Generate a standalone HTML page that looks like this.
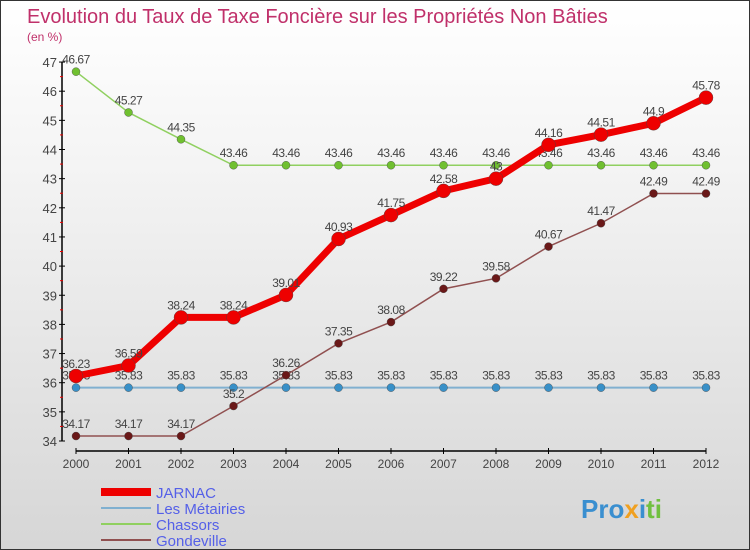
<!DOCTYPE html>
<html><head><meta charset="utf-8"><style>
body{margin:0}
#c{width:750px;height:550px;position:relative;overflow:hidden;background:linear-gradient(#ffffff,#f4f4f4 30%,#d6d6d6);border:1px solid #333;box-sizing:border-box;font-family:"Liberation Sans",sans-serif}
</style></head><body>
<div id="c">
<svg id="s" width="750" height="550" style="position:absolute;left:0;top:0">
<text x="26" y="22" font-size="20" fill="#c0306a">Evolution du Taux de Taxe Foncière sur les Propriétés Non Bâties</text>
<text x="26" y="40" font-size="12" fill="#c0306a">(en %)</text>
<g id="axes"></g><g id="series"></g><g id="legend"></g>
<text x="580" y="517" font-size="26" font-weight="bold" fill="#3a8fd0">Pro<tspan fill="#f0a020">x</tspan><tspan fill="#3a8fd0">i</tspan><tspan fill="#70c040">ti</tspan></text>
</svg>
</div>
<script>
const years=[2000,2001,2002,2003,2004,2005,2006,2007,2008,2009,2010,2011,2012];
const jarnac=[36.23,36.59,38.24,38.24,39.01,40.93,41.75,42.58,43,44.16,44.51,44.9,45.78];
const metairies=[35.83,35.83,35.83,35.83,35.83,35.83,35.83,35.83,35.83,35.83,35.83,35.83,35.83];
const chassors=[46.67,45.27,44.35,43.46,43.46,43.46,43.46,43.46,43.46,43.46,43.46,43.46,43.46];
const gondeville=[34.17,34.17,34.17,35.2,36.26,37.35,38.08,39.22,39.58,40.67,41.47,42.49,42.49];
const yTicks=[34,35,36,37,38,39,40,41,42,43,44,45,46,47];
const names=["JARNAC","Les Métairies","Chassors","Gondeville"];
const NS="http://www.w3.org/2000/svg";
const X=i=>75+i*52.5, Y=v=>440-(v-34)*29.15;
function mk(p,t,a){const e=document.createElementNS(NS,t);for(const k in a)e.setAttribute(k,a[k]);p.appendChild(e);return e;}
const ax=document.getElementById('axes');
let l=mk(ax,'line',{x1:61,y1:Y(47),x2:61,y2:Y(34),stroke:'#000','stroke-width':1.5});


l=mk(ax,'line',{x1:75,y1:450,x2:705,y2:450,stroke:'#000','stroke-width':1.5});


yTicks.forEach(v=>{mk(ax,'line',{x1:58,x2:64,y1:Y(v),y2:Y(v),stroke:'#000'});
 if(v<47)mk(ax,'line',{x1:59,x2:62,y1:Y(v+0.5),y2:Y(v+0.5),stroke:'#e00'});
 const t=mk(ax,'text',{x:56,y:Y(v)+5,'text-anchor':'end','font-size':13,fill:'#444'});t.textContent=v;
 
 });
years.forEach((y,i)=>{mk(ax,'line',{x1:X(i),x2:X(i),y1:447,y2:453,stroke:'#000'});
 const t=mk(ax,'text',{x:X(i),y:467,'text-anchor':'middle','font-size':12,fill:'#444'});t.textContent=y;
 
 });
const sg=document.getElementById('series');
const cfg=[[chassors,'#90d060','#70c030',1.5,4,'chassors'],[metairies,'#80b0d0','#3890c8',2,4,'les-metairies'],[gondeville,'#905050','#6a1818',1.5,4,'gondeville'],[jarnac,'#ee0000','#ee0000',7,7,'jarnac']];
cfg.forEach(([d,lc,pc,w,r,n])=>{
 const p=mk(sg,'polyline',{points:d.map((v,i)=>X(i)+','+Y(v)).join(' '),fill:'none',stroke:lc,'stroke-width':w});
 
 
 d.forEach((v,i)=>{const c=mk(sg,'circle',{cx:X(i),cy:Y(v),r:r,fill:pc,stroke:'#444','stroke-width':0.4});
  
  
  const t=mk(sg,'text',{x:X(i),y:Y(v)-8,'text-anchor':'middle','font-size':12,fill:'#444','letter-spacing':'-0.5'});t.textContent=v;
  
  });
});
const lg=document.getElementById('legend');
[['#ee0000',8],['#80b0d0',2],['#90d060',2],['#905050',2]].forEach(([c,w],i)=>{
 const y=491+i*16;
 const ln=mk(lg,'line',{x1:100,x2:150,y1:y,y2:y,stroke:c,'stroke-width':w});
 
 
 const t=mk(lg,'text',{x:155,y:y+6,'font-size':15,fill:'#5560e8'});t.textContent=names[i];
 
 
});
</script>
</body></html>
